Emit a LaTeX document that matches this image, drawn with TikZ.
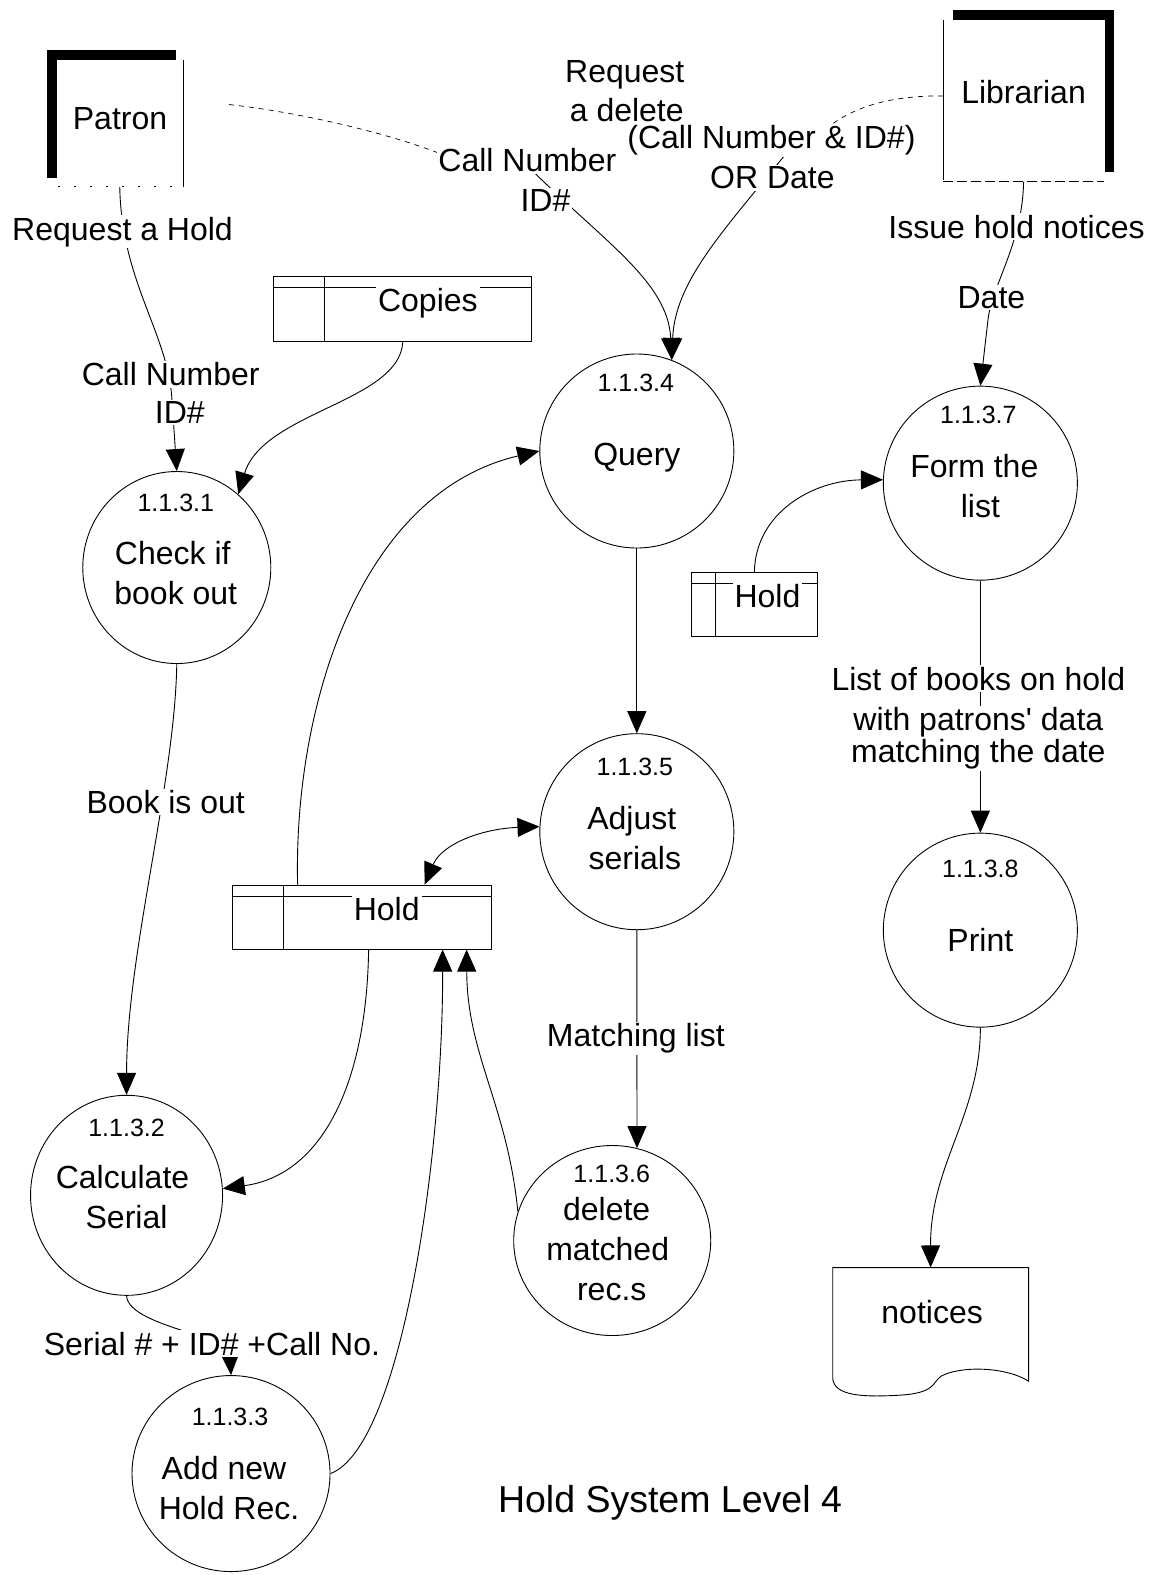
\documentclass[tikz,border=0pt]{standalone}
\usepackage{fontspec}
\setmainfont{Liberation Sans}
\usetikzlibrary{arrows.meta,shapes.geometric}
\begin{document}
\begin{tikzpicture}[x=1.0043pt,y=-1.0043pt,
  font=\fontsize{32}{38}\selectfont,
  line width=0.9pt,
  proc/.style={ellipse,draw,inner sep=0pt},
  num/.style={anchor=base,font=\fontsize{25}{30}\selectfont,inner sep=0pt},
  ptxt/.style={anchor=base,inner sep=0pt},
  flowlbl/.style={anchor=base,fill=white,inner sep=1.5pt},
  store/.style={rectangle,draw,inner sep=0pt},
  storelbl/.style={anchor=base,fill=white,inner sep=2pt},
  entity/.style={rectangle,inner sep=0pt},
  tip/.tip={Triangle[length=22pt,width=19pt]},
  flow/.style={-tip},
  biflow/.style={tip-tip},
  faint/.style={dash pattern=on 5pt off 5pt,line width=0.7pt},
]
\useasboundingbox (0,0) rectangle (1156,1568);

% ---------- external entities ----------
\node[entity,minimum width=136.5pt,minimum height=136pt] (patron) at (114.75,118) {};
\fill (46.5,50) rectangle (175,60);
\fill (46.5,50) rectangle (56.5,177);
\draw (183,60) -- (183,186);
\draw[dash pattern=on 2pt off 14pt] (58,186) -- (183,186);
\node[ptxt] at (119.5,128.5) {Patron};

\node[entity,minimum width=170pt,minimum height=171pt] (lib) at (1024,95.5) {};
\fill (949,10) rectangle (1109,20);
\fill (1100,10) rectangle (1109,171);
\draw (939,20) -- (939,179);
\draw[dash pattern=on 10pt off 4pt] (939,181) -- (1099,181);
\node[ptxt] at (1019,102.6) {Librarian};

% ---------- processes ----------
\node[proc,minimum width=188pt,minimum height=192pt] (p1) at (176,565) {};
\node[num] at (175,509) {1.1.3.1};
\node[ptxt] at (172,562) {Check if};
\node[ptxt] at (175,602) {book out};

\node[proc,minimum width=192pt,minimum height=200pt] (p2) at (126,1190) {};
\node[num] at (126,1131) {1.1.3.2};
\node[ptxt] at (122,1183) {Calculate};
\node[ptxt] at (126,1223) {Serial};

\node[proc,minimum width=198pt,minimum height=196pt] (p3) at (230,1467) {};
\node[num] at (229,1419) {1.1.3.3};
\node[ptxt] at (223,1473) {Add new};
\node[ptxt] at (228,1513) {Hold Rec.};

\node[proc,minimum width=194pt,minimum height=194pt] (p4) at (634,449) {};
\node[num] at (633,390) {1.1.3.4};
\node[ptxt] at (634,463) {Query};

\node[proc,minimum width=194pt,minimum height=196pt] (p5) at (634,828) {};
\node[num] at (632,772) {1.1.3.5};
\node[ptxt] at (629,826) {Adjust};
\node[ptxt] at (632,866) {serials};

\node[proc,minimum width=197pt,minimum height=190pt] (p6) at (609.5,1235) {};
\node[num] at (609,1177) {1.1.3.6};
\node[ptxt] at (604,1215) {delete};
\node[ptxt] at (605,1255) {matched};
\node[ptxt] at (609,1295) {rec.s};

\node[proc,minimum width=194pt,minimum height=194pt] (p7) at (976,481) {};
\node[num] at (974,422) {1.1.3.7};
\node[ptxt] at (970,475) {Form the};
\node[ptxt] at (976,515) {list};

\node[proc,minimum width=194pt,minimum height=194pt] (p8) at (976,926) {};
\node[num] at (976,874) {1.1.3.8};
\node[ptxt] at (976,947) {Print};

% ---------- data stores ----------
\node[store,minimum width=258pt,minimum height=65pt] (copies) at (401,307.5) {};
\draw ([xshift=51pt]copies.north west) -- ([xshift=51pt]copies.south west);
\draw ([yshift=-12pt]copies.north west) -- ([yshift=-12pt]copies.north east);

\node[store,minimum width=259pt,minimum height=64pt] (hold) at (360.5,913) {};
\draw ([xshift=51pt]hold.north west) -- ([xshift=51pt]hold.south west);
\draw ([yshift=-12pt]hold.north west) -- ([yshift=-12pt]hold.north east);

\node[store,minimum width=126pt,minimum height=64pt] (hs) at (751,602) {};
\draw ([xshift=25pt]hs.north west) -- ([xshift=25pt]hs.south west);
\draw ([yshift=-11.5pt]hs.north west) -- ([yshift=-11.5pt]hs.north east);

% ---------- report ----------
\node[entity,minimum width=195pt,minimum height=127pt] (notices) at (926.5,1325.5) {};
\draw (829,1262) -- (1024,1262) -- (1024,1375)
  .. controls (1000,1360) and (955,1360) .. (937,1370)
  .. controls (928,1376) and (932,1387) .. (895,1389)
  .. controls (860,1391) and (830,1390) .. (829,1372) -- cycle;

% ---------- data flows ----------
\draw[flow] ([xshift=4.5pt]patron.south) .. controls (121,280) and (166,330) .. (171,395) -- (p1.north);
\draw[flow] (copies.south) .. controls (398,400) and (262,410) .. (p1.50);

\draw[faint] ([xshift=45pt,yshift=14pt]patron.east) .. controls (300,112) and (400,135) .. (455,160);
\draw[flow] (525,165) .. controls (600,240) and (665,280) .. (p4.69);

\draw[faint] (lib.west) .. controls (890,95) and (845,105) .. (815,135);
\draw[flow] (785,150) .. controls (720,230) and (672,280) .. (p4.69);

\draw[flow] (p4.south) -- (p5.north);
\draw[flow] ([xshift=-64.5pt]hold.north) .. controls (292,700) and (360,490) .. (p4.west);
\draw[biflow] ([xshift=62.5pt]hold.north) .. controls (440,840) and (480,825) .. (p5.177);
\draw[flow] ([xshift=6.5pt]hold.south) .. controls (365,1080) and (320,1170) .. (p2.4);
\draw[flow] (p1.south) .. controls (174,780) and (126,950) .. (p2.north);
\draw[flow] (p2.south) .. controls (128,1320) and (228,1330) .. (p3.north);
\draw[flow] (p3.east) .. controls (400,1440) and (441,1150) .. ([xshift=80.5pt]hold.south);
\draw[flow] (p6.163) .. controls (505,1100) and (465,1050) .. ([xshift=104.5pt]hold.south);
\draw[flow] (p5.south) -- (p6.75);

\draw[flow] (hs.north) .. controls (752,510) and (810,478) .. (p7.178);
\draw[flow] ([xshift=-5pt]lib.south) .. controls (1018,240) and (990,280) .. (984,315) -- (p7.north);
\draw[flow] (p7.south) -- (p8.north);
\draw[flow] (p8.south) .. controls (976,1110) and (926,1160) .. (notices.north);

% ---------- flow labels ----------
\node[flowlbl] at (122,239) {Request a Hold};
\node[flowlbl] at (170,384) {Call Number};
\node[flowlbl] at (179,422) {ID\#};

\node[flowlbl] at (525,171) {Call Number};
\node[flowlbl] at (543,211) {ID\#};

\node[flowlbl] at (768,148) {(Call Number \& ID\#)};
\node[flowlbl] at (769,188) {OR Date};
\node[ptxt] at (622,82) {Request};
\node[ptxt] at (624,121) {a delete};

\node[flowlbl] at (1012,237) {Issue hold notices};
\node[flowlbl] at (987,307) {Date};

\node[flowlbl] at (974,687) {List of books on hold};
\node[flowlbl] at (974,727) {with patrons\textquotesingle{} data};
\node[flowlbl] at (974,759) {matching the date};

\node[flowlbl] at (165,810) {Book is out};
\node[flowlbl] at (633,1042) {Matching list};
\node[flowlbl] at (211,1349) {Serial \# + ID\# +Call No.};

% ---------- store and report labels ----------
\node[storelbl] at (426,310) {Copies};
\node[storelbl] at (385,916) {Hold};
\node[storelbl] at (764,605) {Hold};
\node[ptxt] at (928,1318) {notices};

\node[anchor=base,font=\fontsize{37.5}{45}\selectfont] at (667,1506) {Hold System Level 4};
\end{tikzpicture}
\end{document}
